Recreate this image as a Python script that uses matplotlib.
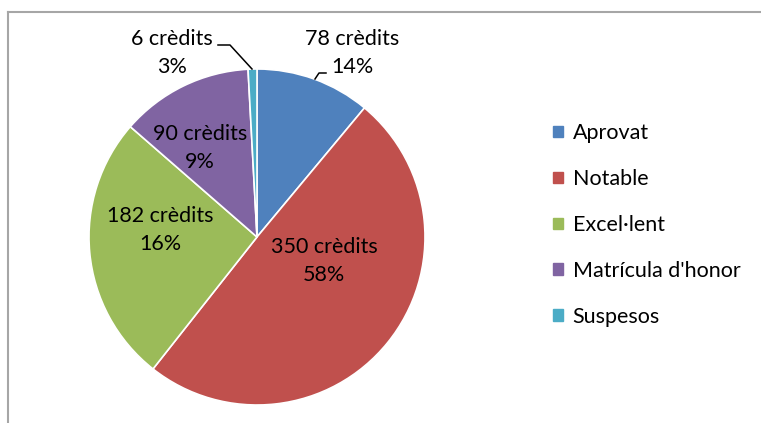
import matplotlib
matplotlib.use("Agg")
import matplotlib.pyplot as plt
from matplotlib.lines import Line2D

plt.rcParams['font.family'] = ['Lato', 'DejaVu Sans']

categories = ["Aprovat", "Notable", "Excel·lent", "Matrícula d'honor", "Suspesos"]
credits = [78, 350, 182, 90, 6]
pct_labels = ["14%", "58%", "16%", "9%", "3%"]
colors = ["#4F81BD", "#C0504D", "#9BBB59", "#8064A2", "#4BACC6"]

W, H = 761, 423
fig = plt.figure(figsize=(W / 100, H / 100), dpi=100)

cx, cy, R = 257, 237, 168
half = 185
ax = fig.add_axes([(cx - half) / W, 1 - (cy + half) / H, 2 * half / W, 2 * half / H])
wedges, _ = ax.pie(credits, colors=colors, startangle=90, counterclock=False,
                   wedgeprops=dict(edgecolor='white', linewidth=1.2))
lim = half / R
ax.set_xlim(-lim, lim)
ax.set_ylim(-lim, lim)
ax.set_aspect('equal')
ax.axis('off')

def px2d(px, py):
    return (px - cx) / R, (cy - py) / R

label_pos = [(352, 53), (324, 261), (160, 230), (200, 148), (172, 53)]
fs = 15.5
for i, (px, py) in enumerate(label_pos):
    x, y = px2d(px, py)
    ax.text(x, y, f"{credits[i]} crèdits\n{pct_labels[i]}", ha='center', va='center',
            fontsize=fs, color='black', linespacing=1.55)

# leader lines
for pts in ([(315, 79), (319, 73), (326, 73)], [(218, 45), (230, 45), (252, 69)]):
    xs, ys = zip(*[px2d(*p) for p in pts])
    ax.plot(xs, ys, color='black', lw=1.1, clip_on=False)

# legend
handles = [plt.Rectangle((0, 0), 1, 1, color=c) for c in colors]
leg = fig.legend(handles, categories, loc='upper left',
                 bbox_to_anchor=(534 / W, 1 - 104 / H), frameon=False,
                 fontsize=fs, handlelength=0.45, handleheight=0.45,
                 handletextpad=0.45, labelspacing=1.2)

# chart frame
fig.add_artist(Line2D([8 / W, 8 / W], [0, 1 - 12 / H], color='#A6A6A6', lw=1.5, transform=fig.transFigure))
fig.add_artist(Line2D([8 / W, 1], [1 - 12 / H, 1 - 12 / H], color='#A6A6A6', lw=1.5, transform=fig.transFigure))

fig.savefig("out.png", dpi=100, facecolor='white')
